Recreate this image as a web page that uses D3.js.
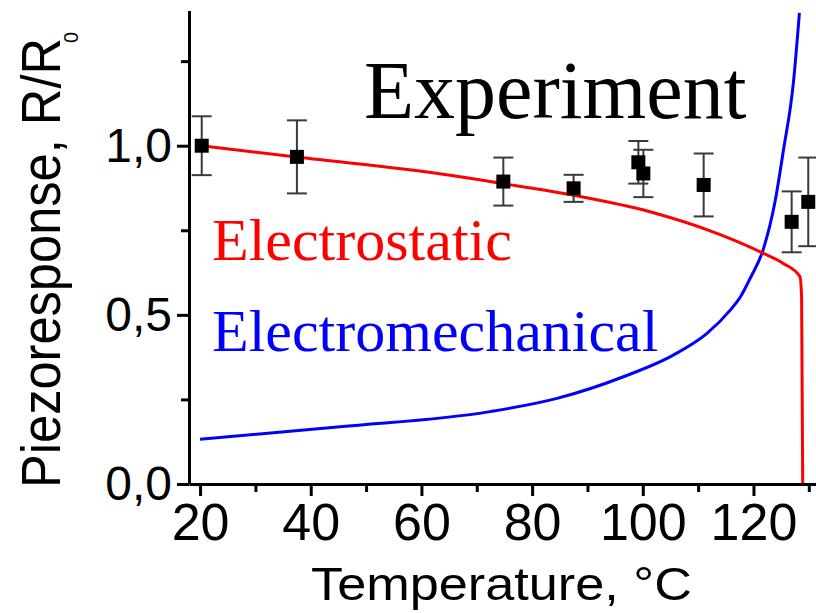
<!DOCTYPE html>
<html>
<head>
<meta charset="utf-8">
<script src="https://cdnjs.cloudflare.com/ajax/libs/d3/7.8.5/d3.min.js"></script>
<style>
    body { margin: 0; background: #fff; }
    svg { display: block; }
</style>
</head>
<body>
<div id="chart"></div>
<script>
// measured points (temperature, response, error)
const expTemp = [20.3, 37.5, 74.8, 87.5, 99.2, 100.1, 111.0, 126.9, 129.9]
const expResp = [1.0, 0.967, 0.894, 0.874, 0.951, 0.918, 0.884, 0.775, 0.834]
const expErr = [0.087, 0.108, 0.071, 0.04, 0.063, 0.07, 0.093, 0.09, 0.131]

// electrostatic model curve
const esTemp = [20, 37.8, 65.2, 72.4, 87.4, 101.3, 113.4, 121.8, 125.4, 128.4, 128.7, 128.9]
const esResp = [1.0, 0.966, 0.913, 0.894, 0.854, 0.805, 0.741, 0.682, 0.652, 0.613, 0.55, 0]

// electromechanical model curve
const emTemp = [20, 45.3, 72.4, 84.5, 96.5, 105.5, 111.6, 115.8, 117.6, 119.4, 121.8, 123.9, 125.4, 127.2, 128.3]
const emResp = [0.132, 0.169, 0.214, 0.253, 0.317, 0.381, 0.445, 0.514, 0.552, 0.608, 0.695, 0.835, 0.985, 1.184, 1.393]

// ticks
const xMajor = [20, 40, 60, 80, 100, 120, 140]
const xMinor = [30, 50, 70, 90, 110, 130]
const yMajor = [0, 0.5, 1.0]
const yMinor = [0.25, 0.75, 1.25]

// dimensions
const w = 816
const h = 613
const pl = 189
const pr = 816
const pbtm = 484
const ptop = 10.4

const svg = d3.select('#chart')
    .append('svg')
    .attr('width', w)
    .attr('height', h)

const xScale = d3.scaleLinear()
    .domain([18, 131.3])
    .range([pl, pr])

const yScale = d3.scaleLinear()
    .domain([0, 1.4])
    .range([pbtm, ptop])

svg.append('defs')
    .append('clipPath')
    .attr('id', 'plot')
    .append('rect')
    .attr('x', pl)
    .attr('y', 0)
    .attr('width', pr - pl)
    .attr('height', pbtm)

const plot = svg.append('g').attr('clip-path', 'url(#plot)')

// model lines
const line = d3.line()
    .x(d => xScale(d[0]))
    .y(d => yScale(d[1]))
    .curve(d3.curveMonotoneX)

plot.append('path')
    .datum(emTemp.map((t, i) => [t, emResp[i]]))
    .attr('d', line)
    .attr('fill', 'none')
    .attr('stroke', '#0000ff')
    .attr('stroke-width', 3)

plot.append('path')
    .datum(esTemp.map((t, i) => [t, esResp[i]]))
    .attr('d', line)
    .attr('fill', 'none')
    .attr('stroke', '#ff0000')
    .attr('stroke-width', 3)

// error bars
const points = expTemp.map((t, i) => ({ t: t, r: expResp[i], e: expErr[i] }))
const cap = 10

const bars = plot.selectAll('.err')
    .data(points)
    .enter()
    .append('g')
    .attr('class', 'err')
    .attr('stroke', '#3a3a3a')
    .attr('stroke-width', 2)

bars.append('line')
    .attr('x1', d => xScale(d.t))
    .attr('x2', d => xScale(d.t))
    .attr('y1', d => yScale(d.r + d.e))
    .attr('y2', d => yScale(d.r - d.e))

bars.append('line')
    .attr('x1', d => xScale(d.t) - cap)
    .attr('x2', d => xScale(d.t) + cap)
    .attr('y1', d => yScale(d.r + d.e))
    .attr('y2', d => yScale(d.r + d.e))

bars.append('line')
    .attr('x1', d => xScale(d.t) - cap)
    .attr('x2', d => xScale(d.t) + cap)
    .attr('y1', d => yScale(d.r - d.e))
    .attr('y2', d => yScale(d.r - d.e))

// square markers
const sq = 14
plot.selectAll('.pt')
    .data(points)
    .enter()
    .append('rect')
    .attr('class', 'pt')
    .attr('x', d => xScale(d.t) - sq / 2)
    .attr('y', d => yScale(d.r) - sq / 2)
    .attr('width', sq)
    .attr('height', sq)
    .attr('fill', '#000')

// axes
const fmt = d => d.toFixed(1).replace('.', ',')

const xAxis = d3.axisBottom(xScale)
    .tickValues(xMajor.filter(v => v <= 131.3))
    .tickSize(12)
    .tickSizeOuter(0)
    .tickPadding(7)

const xMinorAxis = d3.axisBottom(xScale)
    .tickValues(xMinor)
    .tickSize(8)
    .tickSizeOuter(0)
    .tickFormat('')

const yAxis = d3.axisLeft(yScale)
    .tickValues(yMajor)
    .tickSize(12)
    .tickSizeOuter(0)
    .tickPadding(5)
    .tickFormat(fmt)

const yMinorAxis = d3.axisLeft(yScale)
    .tickValues(yMinor)
    .tickSize(8)
    .tickSizeOuter(0)
    .tickFormat('')

const gx = svg.append('g')
    .attr('transform', `translate(0,${pbtm})`)
    .call(xAxis)
svg.append('g')
    .attr('transform', `translate(0,${pbtm})`)
    .call(xMinorAxis)
    .select('.domain').remove()

const gy = svg.append('g')
    .attr('transform', `translate(${pl},0)`)
    .call(yAxis)
svg.append('g')
    .attr('transform', `translate(${pl},0)`)
    .call(yMinorAxis)
    .select('.domain').remove()

svg.selectAll('.domain, .tick line')
    .attr('stroke', '#000')
    .attr('stroke-width', 3)

gx.selectAll('.tick text')
    .attr('font-family', '"Liberation Sans", Arial, sans-serif')
    .attr('font-size', 52)
    .attr('fill', '#000')

gy.selectAll('.tick text')
    .attr('font-family', '"Liberation Sans", Arial, sans-serif')
    .attr('font-size', 48)
    .attr('fill', '#000')

// axis titles
svg.append('text')
    .attr('x', 311)
    .attr('y', 600)
    .attr('font-family', '"Liberation Sans", Arial, sans-serif')
    .attr('font-size', 47)
    .attr('textLength', 381)
    .attr('lengthAdjust', 'spacingAndGlyphs')
    .text('Temperature, °C')

svg.append('text')
    .attr('transform', 'translate(60,488) rotate(-90)')
    .attr('font-family', '"Liberation Sans", Arial, sans-serif')
    .attr('font-size', 56)
    .attr('textLength', 450)
    .attr('lengthAdjust', 'spacingAndGlyphs')
    .text('Piezoresponse, R/R')

svg.append('text')
    .attr('transform', 'translate(78,43) rotate(-90)')
    .attr('font-family', '"Liberation Sans", Arial, sans-serif')
    .attr('font-size', 20)
    .text('0')

// labels in the plot
const serif = '"Liberation Serif", "Times New Roman", serif'

svg.append('text')
    .attr('x', 364)
    .attr('y', 118)
    .attr('font-family', serif)
    .attr('font-size', 82)
    .attr('fill', '#000')
    .text('Experiment')

svg.append('text')
    .attr('x', 212)
    .attr('y', 260)
    .attr('font-family', serif)
    .attr('font-size', 60)
    .attr('fill', '#ff0000')
    .text('Electrostatic')

svg.append('text')
    .attr('x', 212)
    .attr('y', 351)
    .attr('font-family', serif)
    .attr('font-size', 60)
    .attr('fill', '#0000ff')
    .text('Electromechanical')
</script>
</body>
</html>
